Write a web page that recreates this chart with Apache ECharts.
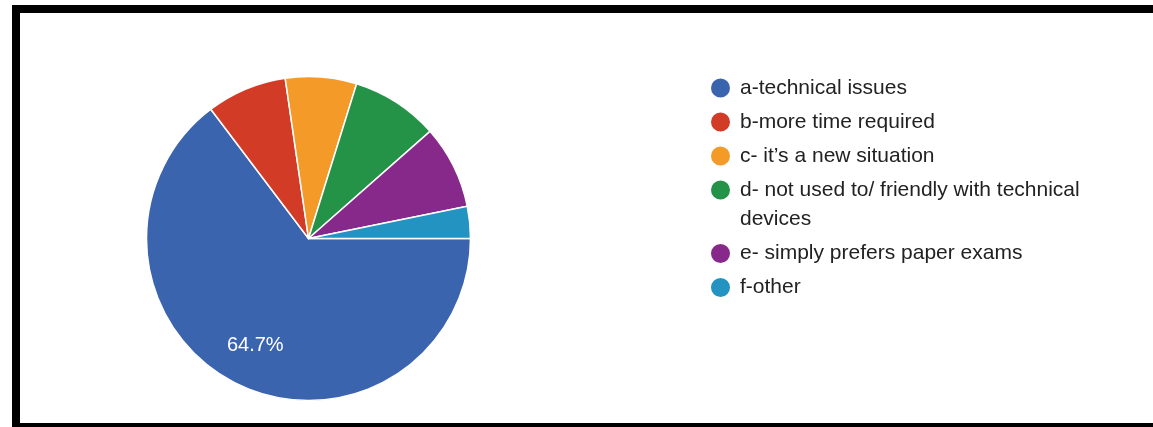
<!DOCTYPE html>
<html>
<head>
<meta charset="utf-8">
<script src="https://cdn.jsdelivr.net/npm/echarts@6/dist/echarts.min.js"></script>
<style>
  html, body { margin: 0; padding: 0; background: #ffffff; }
  #frame { position: absolute; left: 12px; top: 5px; width: 1141px; height: 422px;
           border-top: 8px solid #000; border-left: 8px solid #000; border-bottom: 4px solid #000;
           box-sizing: border-box; }
  #chart { position: absolute; left: 0; top: 0; width: 1153px; height: 427px; }
</style>
</head>
<body>
<div id="frame"></div>
<div id="chart"></div>
<script>
const categories = [
  'a-technical issues',
  'b-more time required',
  'c- it\u2019s a new situation',
  'd- not used to/ friendly with technical devices',
  'e- simply prefers paper exams',
  'f-other'
];
const values = [64.7, 8.0, 7.1, 8.7, 8.3, 3.2];
const colors = ['#3b64ae', '#d23c27', '#f39a28', '#249247', '#87298a', '#2393c1'];
const shownLabels = ['64.7%', '', '', '', '', ''];

const font = '"Liberation Sans", Arial, sans-serif';
const pieData = categories.map((c, i) => ({ name: c, value: values[i], itemStyle: { color: colors[i] } }));
const labelData = categories.map((c, i) => ({ name: c, value: values[i], label: { show: shownLabels[i] !== '', formatter: shownLabels[i] } }));

const chart = echarts.init(document.getElementById('chart'), null, { renderer: 'canvas' });
const legendCommon = {
  orient: 'vertical',
  left: 709,
  icon: 'circle',
  itemWidth: 21,
  itemHeight: 21,
  itemGap: 11,
  padding: 0,
  selectedMode: false,
  formatter: function (n) { return n === categories[3] ? 'd- not used to/ friendly with technical' : n; },
  textStyle: { fontFamily: font, fontSize: 21, lineHeight: 21, color: '#222222', padding: [0, 0, 0, 4] }
};
chart.setOption({
  animation: false,
  title: {
    text: 'devices',
    left: 740,
    top: 209,
    padding: 0,
    textStyle: { fontFamily: font, fontSize: 21, lineHeight: 21, fontWeight: 'normal', color: '#222222' }
  },
  legend: [
    Object.assign({}, legendCommon, { top: 76.5, data: categories.slice(0, 4) }),
    Object.assign({}, legendCommon, { top: 242, data: categories.slice(4) })
  ],
  series: [
    {
      type: 'pie',
      center: [308.5, 238.5],
      radius: [0, 162],
      startAngle: 0,
      clockwise: true,
      label: { show: false },
      labelLine: { show: false },
      emphasis: { disabled: true },
      itemStyle: { borderColor: '#ffffff', borderWidth: 1.5 },
      data: pieData
    },
    {
      type: 'pie',
      center: [308.5, 238.5],
      radius: [71, 162],
      startAngle: 0,
      clockwise: true,
      silent: true,
      legendHoverLink: false,
      itemStyle: { color: 'rgba(0,0,0,0)' },
      label: { position: 'inside', color: '#ffffff', fontFamily: font, fontSize: 20 },
      labelLine: { show: false },
      emphasis: { disabled: true },
      data: labelData
    }
  ]
});
</script>
</body>
</html>
